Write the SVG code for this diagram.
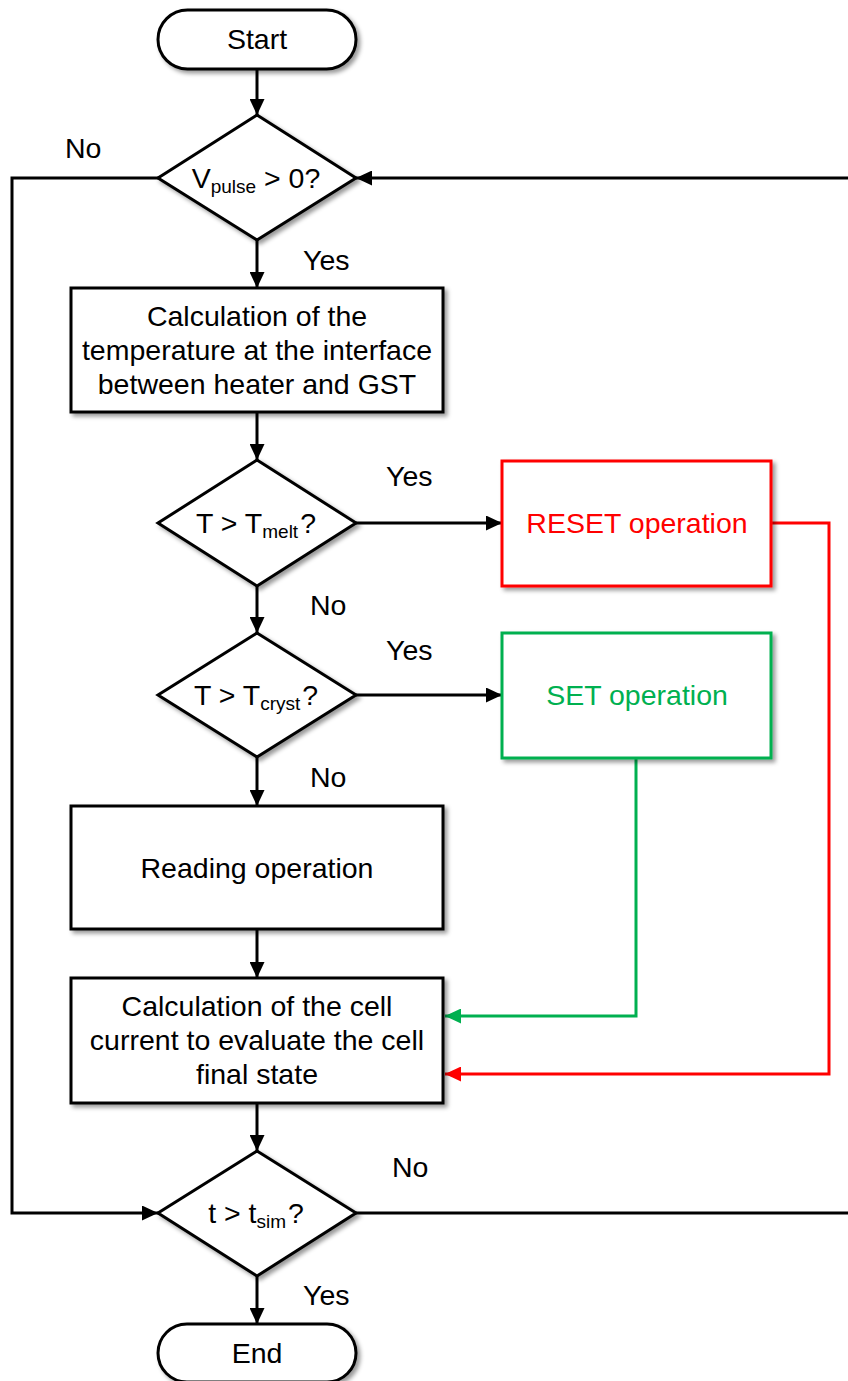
<svg xmlns="http://www.w3.org/2000/svg" width="848" height="1381" viewBox="0 0 848 1381">
  <style>
    .shape { fill: #ffffff; stroke: #000000; stroke-width: 3; filter: url(#shadow); }
    .red { stroke: #ff0000; }
    .green { stroke: #00b050; }
    .lbl { font-family: "Liberation Sans", Arial, sans-serif; font-size: 28.5px; fill: #000000; text-anchor: middle; }
    .edge { font-family: "Liberation Sans", Arial, sans-serif; font-size: 28.5px; fill: #000000; }
    .sub { font-size: 19px; }
    .conn { fill: none; stroke: #000000; stroke-width: 3; }
  </style>
  <defs>
    <filter id="shadow" x="-10%" y="-10%" width="130%" height="130%">
      <feDropShadow dx="3" dy="3" stdDeviation="2" flood-color="#000000" flood-opacity="0.4"/>
    </filter>
    <marker id="arrow" markerUnits="userSpaceOnUse" markerWidth="17" markerHeight="15" refX="16" refY="7.5" orient="auto">
      <path d="M0,0 L16,7.5 L0,15 z" fill="#000000"/>
    </marker>
    <marker id="arrowRed" markerUnits="userSpaceOnUse" markerWidth="17" markerHeight="15" refX="16" refY="7.5" orient="auto">
      <path d="M0,0 L16,7.5 L0,15 z" fill="#ff0000"/>
    </marker>
    <marker id="arrowGreen" markerUnits="userSpaceOnUse" markerWidth="17" markerHeight="15" refX="16" refY="7.5" orient="auto">
      <path d="M0,0 L16,7.5 L0,15 z" fill="#00b050"/>
    </marker>
  </defs>

  <rect width="848" height="1381" fill="#ffffff"/>

  <!-- connectors -->
  <g id="connectors">
    <line class="conn" x1="257" y1="69" x2="257" y2="115" marker-end="url(#arrow)"/>
    <line class="conn" x1="257" y1="240" x2="257" y2="288" marker-end="url(#arrow)"/>
    <line class="conn" x1="257" y1="412" x2="257" y2="460" marker-end="url(#arrow)"/>
    <line class="conn" x1="257" y1="586" x2="257" y2="633" marker-end="url(#arrow)"/>
    <line class="conn" x1="257" y1="757" x2="257" y2="806" marker-end="url(#arrow)"/>
    <line class="conn" x1="257" y1="929" x2="257" y2="978" marker-end="url(#arrow)"/>
    <line class="conn" x1="257" y1="1103" x2="257" y2="1151" marker-end="url(#arrow)"/>
    <line class="conn" x1="257" y1="1276" x2="257" y2="1324" marker-end="url(#arrow)"/>
    <!-- Yes branches -->
    <line class="conn" x1="356" y1="523" x2="502" y2="523" marker-end="url(#arrow)"/>
    <line class="conn" x1="356" y1="695" x2="502" y2="695" marker-end="url(#arrow)"/>
    <!-- no-pulse loop to the time check -->
    <polyline class="conn" points="158,178 12,178 12,1213 158,1213" marker-end="url(#arrow)"/>
    <!-- time loop back to the pulse check -->
    <line class="conn" x1="356" y1="1213" x2="850" y2="1213"/>
    <line class="conn" x1="850" y1="178" x2="356" y2="178" marker-end="url(#arrow)"/>
    <!-- SET / RESET returns -->
    <polyline class="conn" points="636,758 636,1016 445,1016" style="stroke:#00b050" marker-end="url(#arrowGreen)"/>
    <polyline class="conn" points="771,523 829,523 829,1074 445,1074" style="stroke:#ff0000" marker-end="url(#arrowRed)"/>
    <!-- branch labels -->
    <text class="edge" x="65" y="158">No</text>
    <text class="edge" x="303" y="270">Yes</text>
    <text class="edge" x="386" y="486">Yes</text>
    <text class="edge" x="310" y="615">No</text>
    <text class="edge" x="386" y="660">Yes</text>
    <text class="edge" x="310" y="787">No</text>
    <text class="edge" x="392" y="1177">No</text>
    <text class="edge" x="303" y="1305">Yes</text>
  </g>

  <g id="start">
    <rect class="shape" x="158" y="10" width="198" height="59" rx="29.5"/>
    <text class="lbl" x="257" y="49">Start</text>
  </g>

  <g id="check-pulse">
    <polygon class="shape" points="257,115 356,178 257,240 158,178"/>
    <text class="lbl" x="256" y="188">V<tspan class="sub" dy="5">pulse</tspan><tspan dy="-5"> &gt; 0?</tspan></text>
  </g>

  <g id="calc-temperature">
    <rect class="shape" x="71" y="288" width="372" height="124"/>
    <text class="lbl" x="257" y="326">Calculation of the</text>
    <text class="lbl" x="257" y="360">temperature at the interface</text>
    <text class="lbl" x="257" y="394">between heater and GST</text>
  </g>

  <g id="check-melt">
    <polygon class="shape" points="257,460 356,523 257,586 158,523"/>
    <text class="lbl" x="256" y="533">T &gt; T<tspan class="sub" dy="5">melt</tspan><tspan dy="-5" dx="2">?</tspan></text>
  </g>

  <g id="reset-op">
    <rect class="shape red" x="502" y="461" width="269" height="125"/>
    <text class="lbl" x="637" y="533" style="fill:#ff0000">RESET operation</text>
  </g>

  <g id="check-cryst">
    <polygon class="shape" points="257,633 356,695 257,757 158,695"/>
    <text class="lbl" x="256" y="705">T &gt; T<tspan class="sub" dy="5">cryst</tspan><tspan dy="-5" dx="2">?</tspan></text>
  </g>

  <g id="set-op">
    <rect class="shape green" x="502" y="633" width="269" height="125"/>
    <text class="lbl" x="637" y="705" style="fill:#00b050">SET operation</text>
  </g>

  <g id="reading-op">
    <rect class="shape" x="71" y="806" width="372" height="123"/>
    <text class="lbl" x="257" y="878">Reading operation</text>
  </g>

  <g id="calc-current">
    <rect class="shape" x="71" y="978" width="372" height="125"/>
    <text class="lbl" x="257" y="1016">Calculation of the cell</text>
    <text class="lbl" x="257" y="1050">current to evaluate the cell</text>
    <text class="lbl" x="257" y="1084">final state</text>
  </g>

  <g id="check-time">
    <polygon class="shape" points="257,1151 356,1213 257,1276 158,1213"/>
    <text class="lbl" x="256" y="1223">t &gt; t<tspan class="sub" dy="5">sim</tspan><tspan dy="-5" dx="2">?</tspan></text>
  </g>

  <g id="end">
    <rect class="shape" x="158" y="1324" width="198" height="58" rx="29"/>
    <text class="lbl" x="257" y="1363">End</text>
  </g>
</svg>
